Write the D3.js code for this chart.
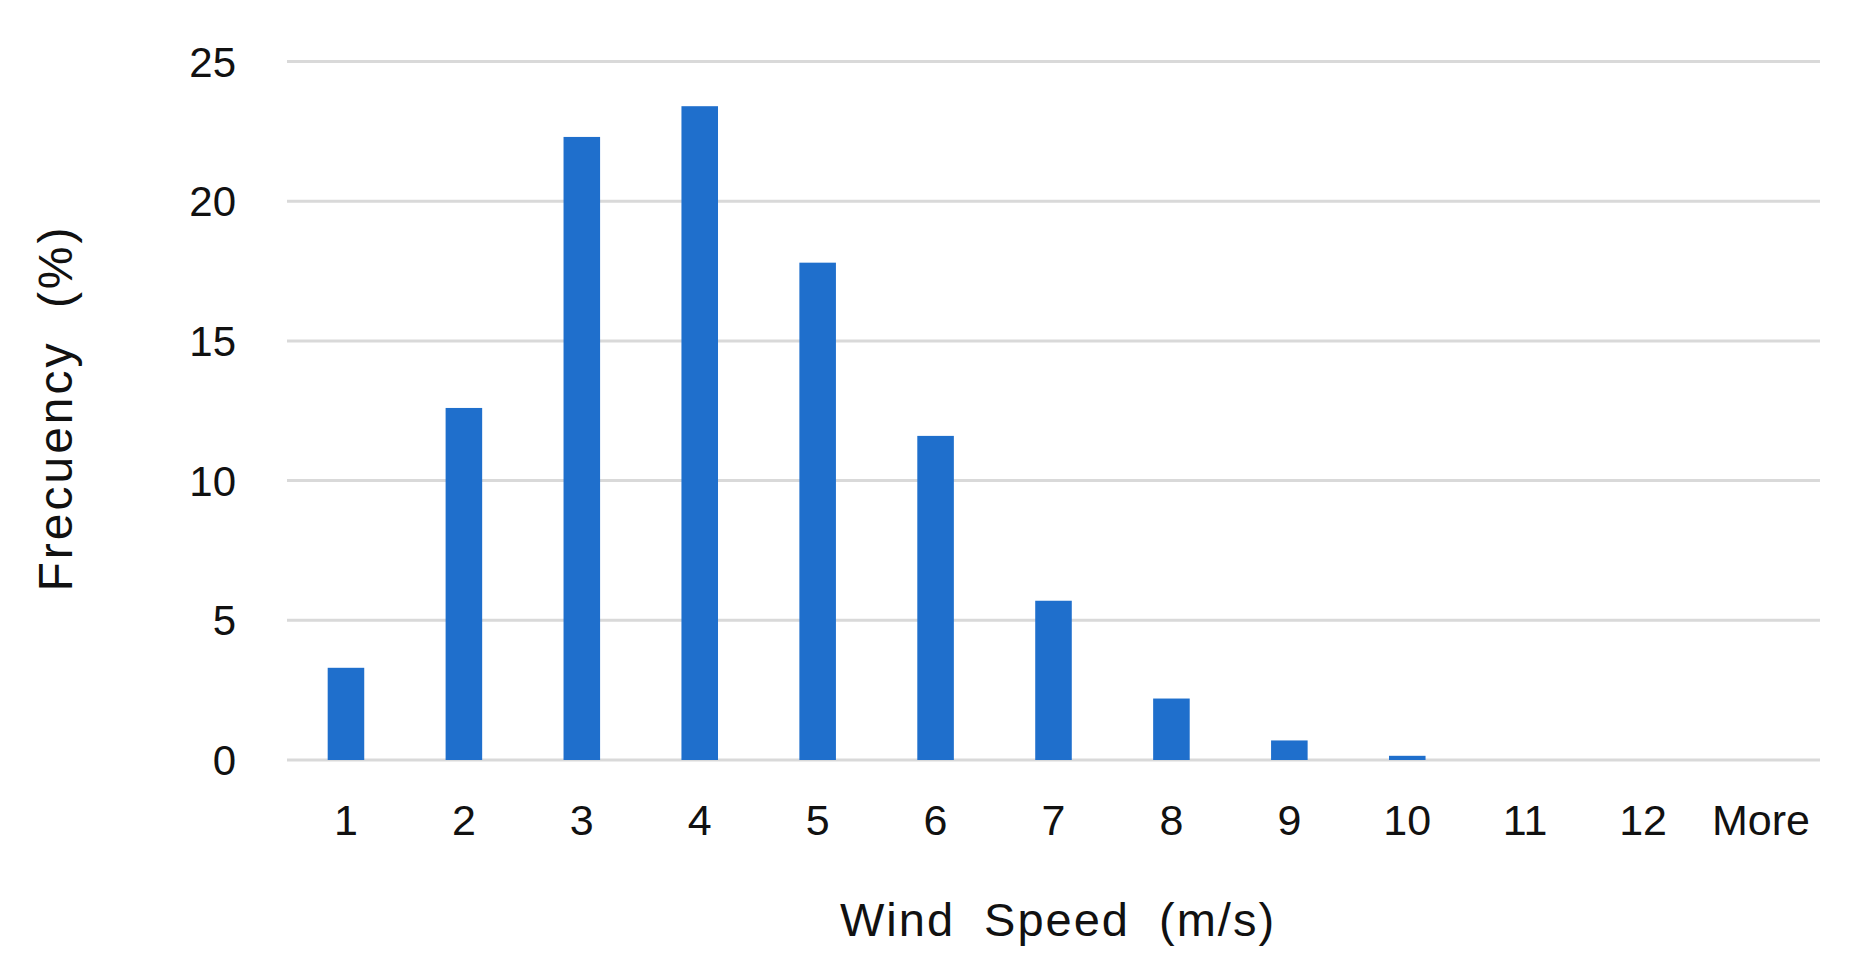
<!DOCTYPE html><html><head><meta charset="utf-8"><script src="https://cdn.jsdelivr.net/npm/d3@7"></script>
<style>body{margin:0;background:#fff}text{font-family:"Liberation Sans",Arial,sans-serif;fill:#111}</style></head><body>
<svg id="c" width="1854" height="971"></svg>
<script>
const categories=["1","2","3","4","5","6","7","8","9","10","11","12","More"];
const frequency=[3.3,12.6,22.3,23.4,17.8,11.6,5.7,2.2,0.7,0.15,0,0,0];
const yTicks=[0,5,10,15,20,25];
const svg=d3.select("#c");
const L=287,R=1820,T=61.5,B=760;
const x=d3.scaleBand().domain(categories).range([L,R]).paddingInner(0.69).paddingOuter(0.345);
const y=d3.scaleLinear().domain([0,25]).range([B,T]);
svg.append("g").selectAll("line").data(yTicks).join("line")
 .attr("x1",L).attr("x2",R).attr("y1",d=>y(d)).attr("y2",d=>y(d))
 .attr("stroke","#d9d9d9").attr("stroke-width",3);
svg.append("g").selectAll("text").data(yTicks).join("text")
 .attr("x",236).attr("y",d=>y(d)+15).attr("text-anchor","end").attr("font-size",42).text(d=>d);
svg.append("g").selectAll("rect").data(frequency).join("rect")
 .attr("x",(d,i)=>x(categories[i])).attr("width",x.bandwidth())
 .attr("y",d=>y(d)).attr("height",d=>B-y(d)).attr("fill","#1f6fcc");
svg.append("g").selectAll("text").data(categories).join("text")
 .attr("x",d=>x(d)+x.bandwidth()/2).attr("y",835).attr("text-anchor","middle").attr("font-size",43).text(d=>d);
svg.append("text").attr("x",1058).attr("y",936).attr("text-anchor","middle").attr("font-size",47).attr("letter-spacing",2).attr("word-spacing",14).text("Wind Speed (m/s)");
svg.append("text").attr("transform","translate(55,408) rotate(-90)").attr("text-anchor","middle").attr("dy","0.35em").attr("font-size",48).attr("letter-spacing",3).attr("word-spacing",16).text("Frecuency (%)");
</script></body></html>
